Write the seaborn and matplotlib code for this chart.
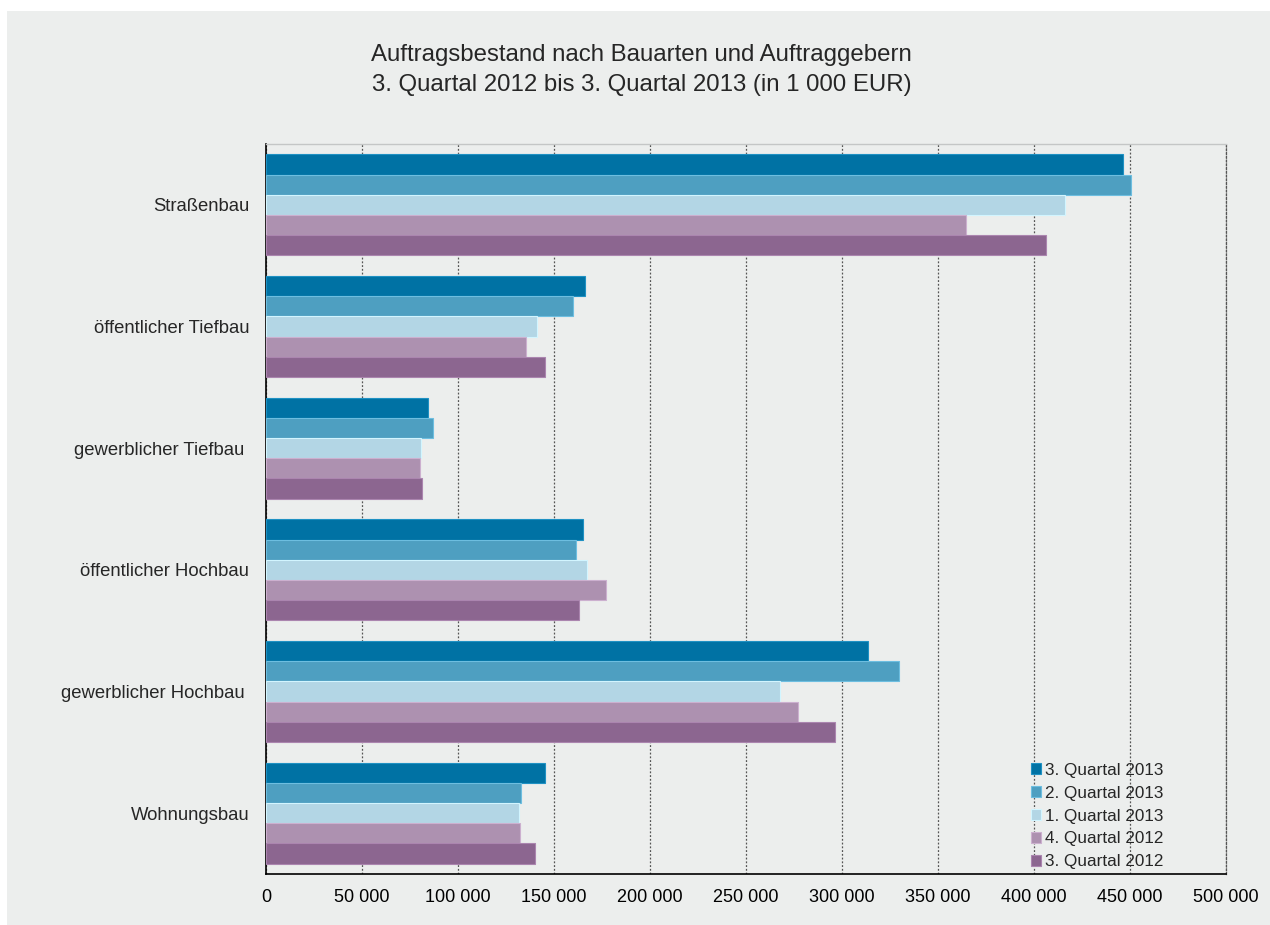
import pandas as pd
import matplotlib
matplotlib.use("Agg")
import matplotlib.pyplot as plt
from matplotlib.patches import Rectangle
from matplotlib.ticker import FuncFormatter, FixedLocator
import seaborn as sns

# Data (in 1 000 EUR)
categories = ["Straßenbau", "öffentlicher Tiefbau", "gewerblicher Tiefbau ",
              "öffentlicher Hochbau", "gewerblicher Hochbau ", "Wohnungsbau"]
series = ["3. Quartal 2013", "2. Quartal 2013", "1. Quartal 2013",
          "4. Quartal 2012", "3. Quartal 2012"]
q3_2013 = [446400, 166300, 84400, 165300, 313700, 145100]
q2_2013 = [450300, 159900, 87000, 161300, 329900, 133000]
q1_2013 = [416000, 141000, 80700, 167200, 267700, 131800]
q4_2012 = [364600, 135600, 80400, 177300, 277300, 132300]
q3_2012 = [406100, 145100, 81250, 162800, 296200, 139900]
colors = ["#0072a4", "#4e9fc1", "#b3d6e5", "#ad91b0", "#8c6690"]

values = [q3_2013, q2_2013, q1_2013, q4_2012, q3_2012]
rows = []
for s, vals in zip(series, values):
    for c, v in zip(categories, vals):
        rows.append({"Bauart": c, "Quartal": s, "Wert": v})
df = pd.DataFrame(rows)

sns.set_style("white")
plt.rcParams["font.family"] = ["Liberation Sans", "DejaVu Sans"]

bg = "#eceeed"
fig = plt.figure(figsize=(12.7, 9.25), dpi=100, facecolor="white")
fig.patches.append(Rectangle((7 / 1270, 0), 1 - 7 / 1270, 914 / 925,
                             transform=fig.transFigure, facecolor=bg,
                             edgecolor="none", zorder=-10))
ax = fig.add_axes([266 / 1270, 1 - 874 / 925, (1226 - 266) / 1270, (874 - 144) / 925])
ax.set_facecolor(bg)

sns.barplot(data=df, x="Wert", y="Bauart", hue="Quartal", order=categories,
            hue_order=series, palette=colors, orient="h", width=0.83,
            saturation=1, ax=ax, zorder=3)
for p in ax.patches:
    fc = p.get_facecolor()
    p.set_edgecolor((min(fc[0] + 0.12, 1), min(fc[1] + 0.12, 1), min(fc[2] + 0.12, 1), 1))
    p.set_linewidth(0.8)

ax.set_xlim(0, 500000)
ax.set_ylim(len(categories) - 0.5, -0.5)
ax.set_xlabel("")
ax.set_ylabel("")

ax.xaxis.set_major_locator(FixedLocator(list(range(0, 500001, 50000))))
ax.xaxis.set_major_formatter(FuncFormatter(lambda v, _: f"{int(v):,}".replace(",", " ")))
ax.grid(axis="x", color="#555555", linestyle=(0, (1.5, 1.5)), linewidth=0.9, zorder=1)
ax.set_axisbelow(True)
ax.tick_params(axis="x", length=0, pad=11, labelsize=13, colors="black")

ax.yaxis.set_minor_locator(FixedLocator([i - 0.5 for i in range(len(categories) + 1)]))
ax.tick_params(axis="y", which="major", length=0, pad=12, labelsize=13.3)
ax.tick_params(axis="y", which="minor", length=5, width=1, color="black", direction="out")

for side in ["left", "bottom"]:
    ax.spines[side].set_color("black")
    ax.spines[side].set_linewidth(1.2)
ax.spines["top"].set_color("#c4c6c6")
ax.spines["top"].set_linewidth(1)
# right edge drawn like the dotted grid lines
ax.spines["right"].set_color("#555555")
ax.spines["right"].set_linestyle((0, (1.5, 1.5)))
ax.spines["right"].set_linewidth(0.9)

handles, labels = ax.get_legend_handles_labels()
ax.legend(handles, labels, loc="lower right", bbox_to_anchor=(0.947, -0.01),
          frameon=False, fontsize=12.3, handlelength=0.6, handleheight=0.6,
          handletextpad=0.2, labelspacing=0.46, borderaxespad=0.3)

fig.text(0.505, 1 - 55 / 925, "Auftragsbestand nach Bauarten und Auftraggebern",
         ha="center", va="center", fontsize=17.3)
fig.text(0.505, 1 - 85 / 925, "3. Quartal 2012 bis 3. Quartal 2013 (in 1 000 EUR)",
         ha="center", va="center", fontsize=17.3)

fig.savefig("out.png", dpi=100, facecolor=fig.get_facecolor())
